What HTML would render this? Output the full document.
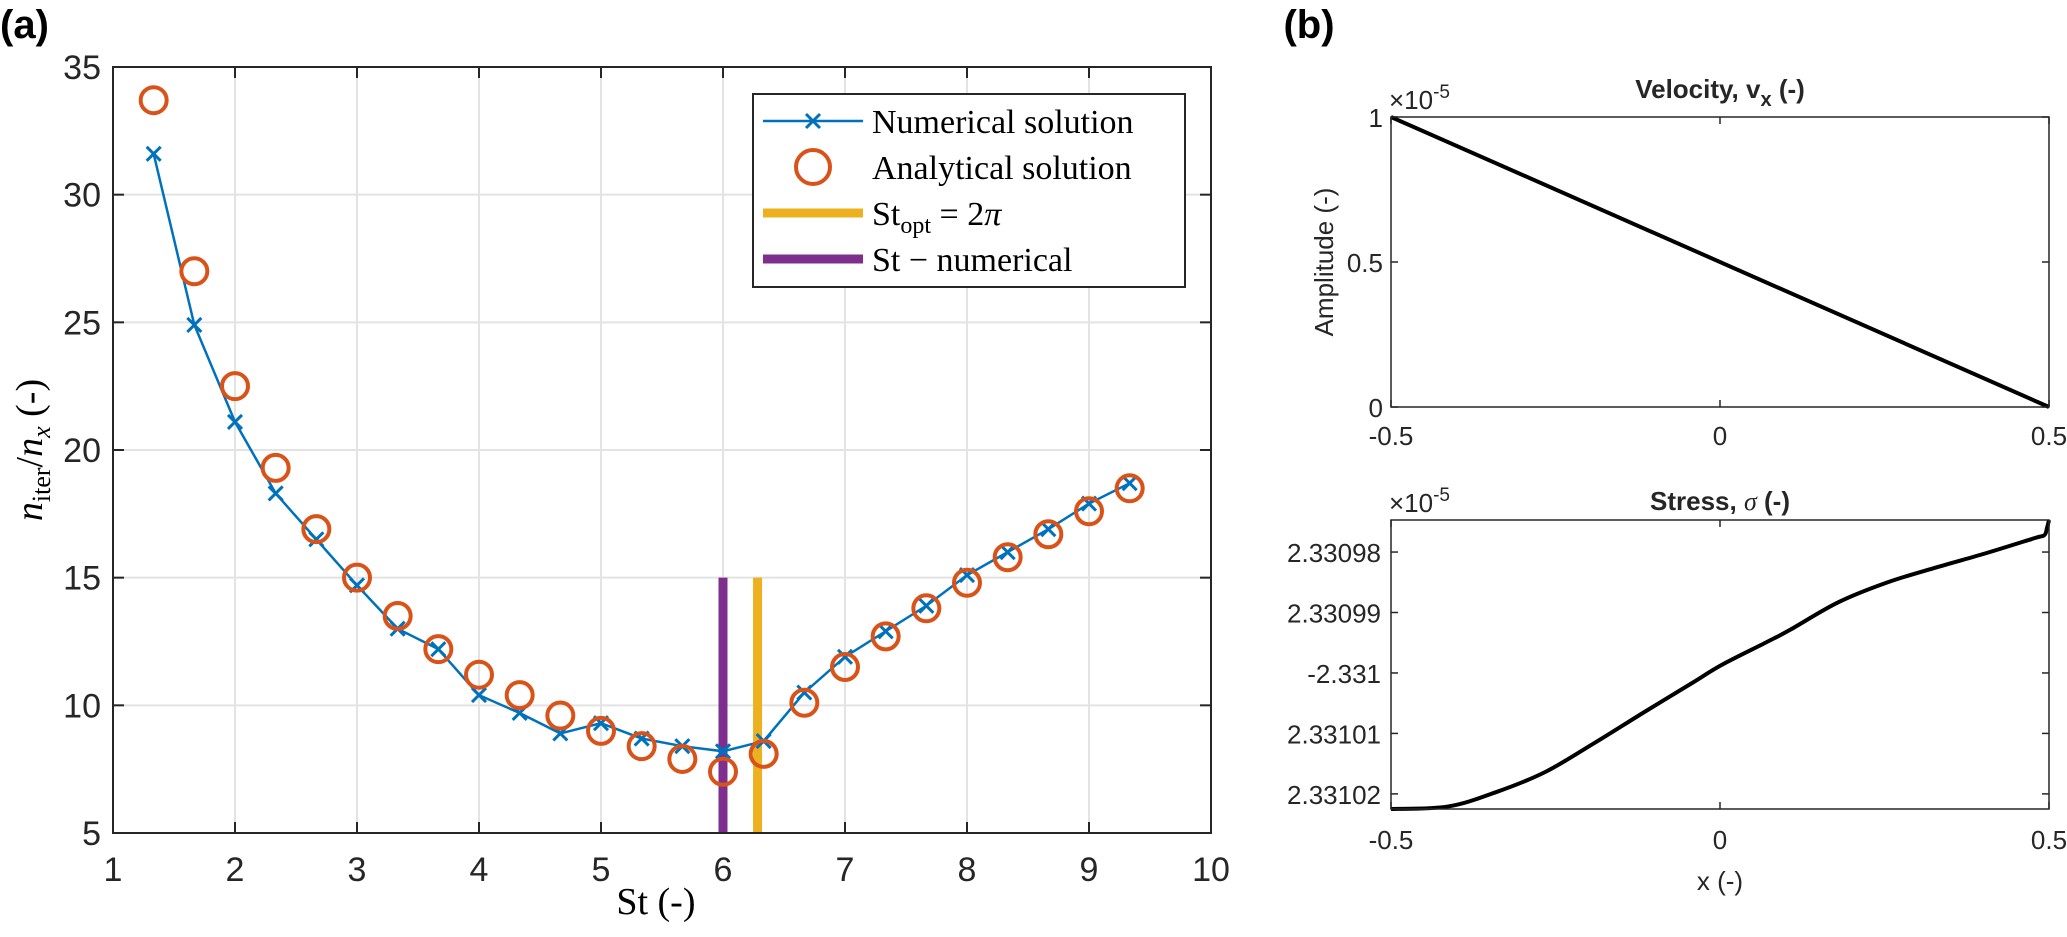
<!DOCTYPE html>
<html><head><meta charset="utf-8">
<style>
html,body{margin:0;padding:0;background:#fff;}
svg{display:block;}
.tk{font-family:"Liberation Sans",sans-serif;font-size:34px;fill:#262626;}
.tr{font-family:"Liberation Sans",sans-serif;font-size:26px;fill:#262626;}
.sf{font-family:"Liberation Serif",serif;fill:#000;}
</style></head>
<body>
<svg id="fig" width="2067" height="937" viewBox="0 0 2067 937" xmlns="http://www.w3.org/2000/svg">
  <text x="0" y="38" font-family="Liberation Sans,sans-serif" font-weight="bold" font-size="40">(a)</text>
  <text x="1309" y="38" text-anchor="middle" font-family="Liberation Sans,sans-serif" font-weight="bold" font-size="40">(b)</text>
  <g id="gA"></g>
  <g id="gV"></g>
  <g id="gS"></g>
</svg>
<script>
// ---- Panel (a) data ----
const stValues = [4/3,5/3,2,7/3,8/3,3,10/3,11/3,4,13/3,14/3,5,16/3,17/3,6,19/3,20/3,7,22/3,23/3,8,25/3,26/3,9,28/3];
const numericalIter = [31.6,24.9,21.1,18.3,16.5,14.7,13.0,12.2,10.4,9.7,8.9,9.3,8.7,8.4,8.2,8.6,10.5,11.9,12.9,13.9,15.1,16.0,16.9,17.9,18.7];
const analyticalIter = [33.7,27.0,22.5,19.3,16.9,15.0,13.5,12.2,11.2,10.4,9.6,9.0,8.4,7.9,7.4,8.1,10.1,11.5,12.7,13.8,14.8,15.8,16.7,17.6,18.5];
const stOptimal = [2*Math.PI];
const stNumerical = [6];
const vlineRange = [5,15];
const xTicksA = [1,2,3,4,5,6,7,8,9,10];
const yTicksA = [5,10,15,20,25,30,35];
// ---- Panel (b) data ----
const velX = [-0.5,0.5];
const velY = [1,0];
const velXTicks = [-0.5,0,0.5];
const velYTicks = [0,0.5,1];
const velYTickLabels = ["0","0.5","1"];
const stressX = [-0.5,-0.414,-0.34,-0.266,-0.191,-0.117,-0.043,0.002,0.069,0.106,0.18,0.255,0.33,0.404,0.478,0.493,0.497,0.5];
const stressY = [-2.3310225,-2.3310221,-2.3310197,-2.3310164,-2.3310116,-2.3310066,-2.3310017,-2.3309987,-2.3309950,-2.3309929,-2.3309883,-2.3309850,-2.3309825,-2.3309802,-2.3309777,-2.3309772,-2.3309760,-2.3309747];
const stressYTicks = [-2.33098,-2.33099,-2.3310,-2.33101,-2.33102];
const stressYTickLabels = ["2.33098","2.33099","-2.331","2.33101","2.33102"];

const NS="http://www.w3.org/2000/svg";
function mk(parent,tag,attrs,text){const e=document.createElementNS(NS,tag);for(const k in attrs)e.setAttribute(k,attrs[k]);if(text!==undefined)e.textContent=text;parent.appendChild(e);return e;}
function smooth(pts){let d=`M${pts[0][0]},${pts[0][1]}`;for(let i=0;i<pts.length-1;i++){const p0=pts[Math.max(0,i-1)],p1=pts[i],p2=pts[i+1],p3=pts[Math.min(pts.length-1,i+2)];
const c1=[p1[0]+(p2[0]-p0[0])/6,p1[1]+(p2[1]-p0[1])/6],c2=[p2[0]-(p3[0]-p1[0])/6,p2[1]-(p3[1]-p1[1])/6];
d+=`C${c1[0]},${c1[1]} ${c2[0]},${c2[1]} ${p2[0]},${p2[1]}`;}return d;}

// ===== Panel A =====
(function(){
const g=document.getElementById('gA');
const L=113,R=1211,T=67,B=833;
const xs=v=>L+(v-1)/(10-1)*(R-L);
const ys=v=>B-(v-5)/(35-5)*(B-T);
xTicksA.forEach(t=>{const l=mk(g,'line',{x1:xs(t),x2:xs(t),y1:T,y2:B,stroke:'#e3e3e3','stroke-width':2});

});
yTicksA.forEach(t=>{const l=mk(g,'line',{x1:L,x2:R,y1:ys(t),y2:ys(t),stroke:'#e3e3e3','stroke-width':2});

});
xTicksA.forEach(t=>{
 mk(g,'line',{x1:xs(t),x2:xs(t),y1:B,y2:B-11,stroke:'#262626','stroke-width':2});
 mk(g,'line',{x1:xs(t),x2:xs(t),y1:T,y2:T+11,stroke:'#262626','stroke-width':2});
 const tx=mk(g,'text',{x:xs(t),y:B+48,'text-anchor':'middle',class:'tk'},String(t));
 
 
});
yTicksA.forEach(t=>{
 mk(g,'line',{x1:L,x2:L+11,y1:ys(t),y2:ys(t),stroke:'#262626','stroke-width':2});
 mk(g,'line',{x1:R,x2:R-11,y1:ys(t),y2:ys(t),stroke:'#262626','stroke-width':2});
 const tx=mk(g,'text',{x:L-12,y:ys(t)+12,'text-anchor':'end',class:'tk'},String(t));
 
 
});
const vp=mk(g,'line',{x1:xs(stNumerical[0]),x2:xs(stNumerical[0]),y1:ys(vlineRange[0]),y2:ys(vlineRange[1]),stroke:'#7E2F8E','stroke-width':9});


const vy=mk(g,'line',{x1:xs(stOptimal[0]),x2:xs(stOptimal[0]),y1:ys(vlineRange[0]),y2:ys(vlineRange[1]),stroke:'#EDB120','stroke-width':9});


const pl=mk(g,'polyline',{points:stValues.map((v,i)=>xs(v)+','+ys(numericalIter[i])).join(' '),fill:'none',stroke:'#0072BD','stroke-width':2.5});


stValues.forEach((v,i)=>{const cx=xs(v),cy=ys(numericalIter[i]),s=7;
 const p=mk(g,'path',{d:`M${cx-s},${cy-s}L${cx+s},${cy+s}M${cx-s},${cy+s}L${cx+s},${cy-s}`,stroke:'#0072BD','stroke-width':3,fill:'none'});
 
 
});
stValues.forEach((v,i)=>{
 const c=mk(g,'circle',{cx:xs(v),cy:ys(analyticalIter[i]),r:13,fill:'none',stroke:'#D95319','stroke-width':4});
 
 
});
mk(g,'rect',{x:L,y:T,width:R-L,height:B-T,fill:'none',stroke:'#262626','stroke-width':2});
const xl=mk(g,'text',{x:xs(5.45),y:914,'text-anchor':'middle',class:'sf','font-size':38},'St (-)');


const yl=mk(g,'text',{transform:`translate(42,${(T+B)/2}) rotate(-90)`,'text-anchor':'middle',class:'sf','font-size':38});


yl.innerHTML='<tspan font-style="italic">n</tspan><tspan font-size="26" dy="8">iter</tspan><tspan dy="-8">/</tspan><tspan font-style="italic">n</tspan><tspan font-style="italic" font-size="26" dy="8">x</tspan><tspan dy="-8"> (-)</tspan>';
const lg=mk(g,'g',{});


mk(lg,'rect',{x:753,y:94,width:432,height:193,fill:'#fff',stroke:'#262626','stroke-width':2});
const rows=[121,167,213,259];
mk(lg,'line',{x1:763,x2:863,y1:rows[0],y2:rows[0],stroke:'#0072BD','stroke-width':2.5});
mk(lg,'path',{d:`M806,${rows[0]-7}L820,${rows[0]+7}M806,${rows[0]+7}L820,${rows[0]-7}`,stroke:'#0072BD','stroke-width':3});
mk(lg,'circle',{cx:813,cy:rows[1],r:17,fill:'none',stroke:'#D95319','stroke-width':4});
mk(lg,'line',{x1:763,x2:863,y1:rows[2],y2:rows[2],stroke:'#EDB120','stroke-width':9});
mk(lg,'line',{x1:763,x2:863,y1:rows[3],y2:rows[3],stroke:'#7E2F8E','stroke-width':9});
const t1=mk(lg,'text',{x:872,y:rows[0]+12,class:'sf','font-size':34},'Numerical solution');


const t2=mk(lg,'text',{x:872,y:rows[1]+12,class:'sf','font-size':34},'Analytical solution');


const t3=mk(lg,'text',{x:872,y:rows[2]+12,class:'sf','font-size':34});
t3.innerHTML='St<tspan font-size="24" dy="8">opt</tspan><tspan dy="-8"> = 2</tspan><tspan font-style="italic">π</tspan>';


const t4=mk(lg,'text',{x:872,y:rows[3]+12,class:'sf','font-size':34},'St − numerical');


})();

// ===== Panel B: velocity =====
(function(){
const g=document.getElementById('gV');
const L=1391,R=2049,T=117,B=407;
const xs=v=>L+(v+0.5)*(R-L);
const ys=v=>B-v*(B-T);
velXTicks.forEach(t=>{
 mk(g,'line',{x1:xs(t),x2:xs(t),y1:B,y2:B-7,stroke:'#262626','stroke-width':1.5});
 mk(g,'line',{x1:xs(t),x2:xs(t),y1:T,y2:T+7,stroke:'#262626','stroke-width':1.5});
 const tx=mk(g,'text',{x:xs(t),y:B+38,'text-anchor':'middle',class:'tr'},String(t));
 
 
});
velYTicks.forEach((t,i)=>{
 mk(g,'line',{x1:L,x2:L+7,y1:ys(t),y2:ys(t),stroke:'#262626','stroke-width':1.5});
 mk(g,'line',{x1:R,x2:R-7,y1:ys(t),y2:ys(t),stroke:'#262626','stroke-width':1.5});
 const tx=mk(g,'text',{x:L-8,y:ys(t)+10,'text-anchor':'end',class:'tr'},velYTickLabels[i]);
 
 
});
const pl=mk(g,'polyline',{points:velX.map((v,i)=>xs(v)+','+ys(velY[i])).join(' '),fill:'none',stroke:'#000','stroke-width':4});


mk(g,'rect',{x:L,y:T,width:R-L,height:B-T,fill:'none',stroke:'#262626','stroke-width':1.5});
const ex=mk(g,'text',{x:L-2,y:T-8,class:'tr'});
ex.innerHTML='×10<tspan font-size="19" dy="-11">-5</tspan>';


const tt=mk(g,'text',{x:1720,y:98,'text-anchor':'middle',class:'tr','font-weight':'bold','font-size':27,fill:'#000','font-family':'Liberation Sans Narrow,Liberation Sans,sans-serif'});
tt.innerHTML='Velocity, v<tspan font-size="20" dy="8">x</tspan><tspan dy="-8"> (-)</tspan>';


const yl=mk(g,'text',{transform:`translate(1333,262) rotate(-90)`,'text-anchor':'middle',class:'tr','font-family':'Liberation Sans Narrow,Liberation Sans,sans-serif','font-size':28},'Amplitude (-)');


})();

// ===== Panel B: stress =====
(function(){
const g=document.getElementById('gS');
const L=1391,R=2049,T=520,B=809;
const yMax=-2.3309747,yMin=-2.3310225;
const xs=v=>L+(v+0.5)*(R-L);
const ys=v=>B-(v-yMin)/(yMax-yMin)*(B-T);
velXTicks.forEach(t=>{
 mk(g,'line',{x1:xs(t),x2:xs(t),y1:B,y2:B-7,stroke:'#262626','stroke-width':1.5});
 mk(g,'line',{x1:xs(t),x2:xs(t),y1:T,y2:T+7,stroke:'#262626','stroke-width':1.5});
 const tx=mk(g,'text',{x:xs(t),y:B+40,'text-anchor':'middle',class:'tr'},String(t));
 
 
});
stressYTicks.forEach((t,i)=>{
 mk(g,'line',{x1:L,x2:L+7,y1:ys(t),y2:ys(t),stroke:'#262626','stroke-width':1.5});
 mk(g,'line',{x1:R,x2:R-7,y1:ys(t),y2:ys(t),stroke:'#262626','stroke-width':1.5});
 const tx=mk(g,'text',{x:L-10,y:ys(t)+10,'text-anchor':'end',class:'tr'},stressYTickLabels[i]);
 
 
});
const pts=stressX.map((v,i)=>[xs(v),ys(stressY[i])]);
const pl=mk(g,'path',{d:smooth(pts),fill:'none',stroke:'#000','stroke-width':4,'stroke-linejoin':'round'});


mk(g,'rect',{x:L,y:T,width:R-L,height:B-T,fill:'none',stroke:'#262626','stroke-width':1.5});
const ex=mk(g,'text',{x:L-2,y:T-8,class:'tr'});
ex.innerHTML='×10<tspan font-size="19" dy="-11">-5</tspan>';


const tt=mk(g,'text',{x:1720,y:510,'text-anchor':'middle',class:'tr','font-weight':'bold','font-size':27,fill:'#000','font-family':'Liberation Sans Narrow,Liberation Sans,sans-serif'});
tt.innerHTML='Stress, <tspan font-family="Liberation Serif,serif" font-style="italic" font-weight="normal">σ</tspan> (-)';


const xl=mk(g,'text',{x:1720,y:890,'text-anchor':'middle',class:'tr','font-family':'Liberation Sans Narrow,Liberation Sans,sans-serif','font-size':28},'x (-)');


})();
</script>
</body></html>
